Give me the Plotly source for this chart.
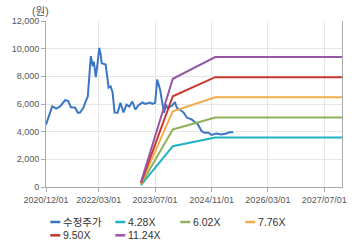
import plotly.graph_objects as go

# ---- data ----
price_dates = ["2020-12-01","2020-12-21","2021-01-24","2021-02-27","2021-04-02","2021-05-15","2021-06-09",
               "2021-07-05","2021-08-08","2021-09-03","2021-09-20","2021-10-16","2021-11-10","2021-11-27",
               "2021-12-23","2022-01-09","2022-01-18","2022-02-04","2022-02-21","2022-03-06","2022-03-18",
               "2022-03-27","2022-04-13","2022-04-30","2022-05-26","2022-06-12","2022-06-29","2022-07-16",
               "2022-08-11","2022-09-05","2022-10-01","2022-10-27","2022-11-21","2022-12-17","2023-01-11",
               "2023-02-06","2023-03-12","2023-04-07","2023-05-20","2023-06-06","2023-07-02","2023-07-19",
               "2023-08-13","2023-08-30","2023-09-16","2023-10-03","2023-10-20","2023-11-06","2023-11-23",
               "2023-12-19","2024-01-05","2024-01-31","2024-03-05","2024-03-31","2024-05-12","2024-06-07",
               "2024-07-03","2024-08-06","2024-08-31","2024-10-05","2024-10-30","2024-12-12","2025-01-24",
               "2025-03-07","2025-04-02","2025-05-06"]
price_values = [4500,5000,5840,5670,5820,6275,6230,
                5770,5750,5360,5380,5670,6200,6560,
                9460,8730,9070,7940,9090,10060,9580,
                8930,8900,8850,7190,7270,6830,5390,
                5360,6090,5390,5960,5820,6180,5600,
                5890,6110,6010,6110,6010,6090,7770,
                7050,6200,5360,5960,5650,5820,5860,
                6130,5720,5600,5360,5020,4880,4700,
                4550,4030,3920,3920,3760,3870,3800,
                3870,3950,3960]

band_dates = ["2023-03-01", "2023-12-01", "2024-12-01", "2027-12-01"]
band_428 = [130, 2950, 3580, 3580]
band_602 = [180, 4160, 5030, 5030]
band_776 = [230, 5480, 6490, 6490]
band_950 = [285, 6560, 7940, 7940]
band_1124 = [340, 7820, 9390, 9390]

tick_vals = ["2020-12-01", "2022-03-01", "2023-07-01", "2024-11-01", "2026-03-01", "2027-07-01"]
tick_text = ["2020/12/01", "2022/03/01", "2023/07/01", "2024/11/01", "2026/03/01", "2027/07/01"]
y_ticks = [0, 2000, 4000, 6000, 8000, 10000, 12000]

series = [
    ("수정주가", price_dates, price_values, "#3b76c4"),
    ("4.28X", band_dates, band_428, "#1fb2c4"),
    ("6.02X", band_dates, band_602, "#8eb35c"),
    ("7.76X", band_dates, band_776, "#f2ac49"),
    ("9.50X", band_dates, band_950, "#c8382f"),
    ("11.24X", band_dates, band_1124, "#9757a5"),
]

FONT = "Liberation Sans, Arial, Noto Sans CJK KR"
fig = go.Figure()
for name, xs, ys, col in series:
    fig.add_trace(go.Scatter(x=xs, y=ys, name=name, mode="lines",
                             line=dict(color=col, width=2), showlegend=False))

# ---- manual legend (compact symbols, column layout) ----
L, T, H = 43, 21, 166
bottom = T + H
shapes = []
annotations = []
for i, (name, xs, ys, col) in enumerate(series):
    row, c = divmod(i, 4)
    lx = 47.3 + 65 * c
    ly = 222 + 13.3 * row
    shapes.append(dict(type="line", xref="paper", yref="paper",
                       xsizemode="pixel", ysizemode="pixel", xanchor=0, yanchor=0,
                       x0=lx - L, x1=lx - L + 10, y0=bottom - ly, y1=bottom - ly,
                       line=dict(color=col, width=2.5)))
    annotations.append(dict(text=name, xref="paper", yref="paper", x=0, y=0,
                            xanchor="left", yanchor="middle", showarrow=False,
                            xshift=lx - L + 11, yshift=bottom - ly,
                            font=dict(family=FONT, size=10.5, color="#333")))

annotations.append(dict(text="(원)", xref="paper", yref="paper", x=0, y=1,
                        xanchor="center", yanchor="middle", showarrow=False,
                        xshift=37 - L, yshift=T - 11,
                        font=dict(family=FONT, size=10.5, color="#555")))

fig.update_layout(
    width=360, height=248,
    margin=dict(l=L, r=18, t=T, b=248 - bottom),
    paper_bgcolor="white", plot_bgcolor="white",
    font=dict(family=FONT, size=9, color="#555"),
    shapes=shapes, annotations=annotations,
    xaxis=dict(type="date", range=["2020-12-01", "2027-12-01"],
               tickvals=tick_vals, ticktext=tick_text,
               showgrid=True, gridcolor="#e6e6e6", gridwidth=1,
               showline=True, linecolor="#aaa", linewidth=1,
               ticks="outside", ticklen=4, tickcolor="#aaa",
               tickfont=dict(size=9, color="#555"), zeroline=False),
    yaxis=dict(range=[0, 12000], tickvals=y_ticks, tickformat=",",
               showgrid=True, gridcolor="#e6e6e6", gridwidth=1,
               showline=True, linecolor="#aaa", linewidth=1, mirror=True,
               ticks="outside", ticklen=4, tickcolor="#aaa",
               tickfont=dict(size=9, color="#555"), zeroline=False),
)

fig.write_html("out.html")
